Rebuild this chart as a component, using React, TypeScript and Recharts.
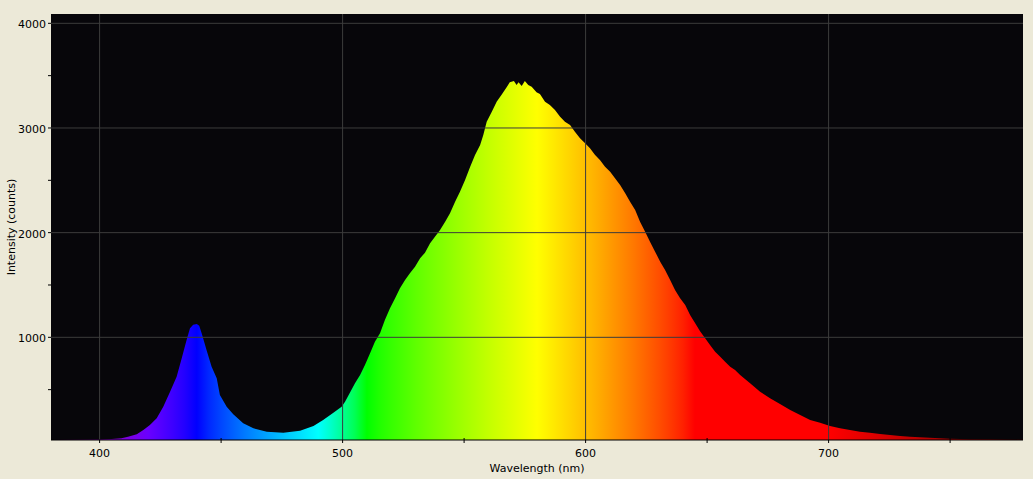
import React from "react";
import {
  AreaChart,
  Area,
  XAxis,
  YAxis,
  CartesianGrid,
  ReferenceLine,
} from "recharts";

// Wavelength (nm) and intensity (counts)
const WAVELENGTHS = [
  380, 390, 400, 405, 409, 411.7, 415.3, 418, 420.7, 423.5, 426.2, 429, 431.7,
  433.8, 435.8, 437.2, 438.5, 440, 441, 442, 444, 446.1, 448.2, 449.5, 452.3,
  455, 459.1, 463.3, 468.8, 475.6, 482.5, 488, 492, 496.2, 499.6, 501, 503,
  505.1, 507.2, 509.2, 511.3, 513.3, 515.4, 517.4, 519.5, 521.6, 523.6, 525.7,
  527.7, 529.8, 531.9, 533.9, 536, 538, 540.1, 542.2, 544.2, 546.3, 548.3,
  550.4, 552.5, 554.5, 556.6, 557.9, 559.3, 561.4, 563.4, 565.5, 567.5, 568.8,
  570.5, 571.6, 572.4, 573.7, 575, 576.4, 577.8, 579.8, 581.2, 583.3, 585.3,
  587.4, 589.5, 591.5, 593.6, 595.6, 597.7, 599.8, 601.8, 603.9, 605.9, 608,
  610.1, 612.1, 614.2, 616.3, 618.3, 620.4, 622.4, 624.5, 626.5, 628.6, 630.7,
  632.7, 634.8, 636.8, 638.9, 641, 643, 645.1, 647.1, 649.2, 651.2, 653.3,
  655.4, 657.4, 659.5, 661.5, 663.6, 667.7, 671.8, 675.9, 680, 684.2, 688.3,
  692.4, 696.5, 700.6, 704.7, 708.8, 712.9, 717, 721.2, 725.3, 729.4, 733.5,
  737.6, 741.7, 745.8, 749.9, 754, 758.2, 766.4, 772, 780,
];

const COUNTS = [
  20, 22, 24, 28, 36, 50, 73, 115, 162, 226, 337, 480, 624, 800, 975, 1086,
  1120, 1127, 1110, 1038, 879, 719, 608, 449, 337, 264, 178, 131, 99, 89, 108,
  153, 210, 280, 337, 385, 470, 561, 640, 736, 847, 958, 1038, 1166, 1277, 1373,
  1468, 1548, 1612, 1675, 1755, 1809, 1898, 1962, 2025, 2105, 2185, 2296, 2391,
  2503, 2630, 2742, 2837, 2933, 3060, 3156, 3251, 3320, 3390, 3437, 3449, 3411,
  3437, 3401, 3449, 3411, 3395, 3341, 3325, 3251, 3220, 3172, 3108, 3060, 3028,
  2965, 2901, 2853, 2806, 2742, 2694, 2630, 2582, 2519, 2455, 2376, 2296, 2216,
  2105, 2009, 1914, 1818, 1723, 1643, 1548, 1452, 1373, 1309, 1213, 1134, 1057,
  991, 927, 863, 815, 767, 719, 688, 640, 561, 480, 417, 363, 306, 258, 210,
  185, 153, 131, 115, 99, 89, 76, 67, 57, 51, 45, 41, 35, 32, 29, 26, 26, 24,
  22,
];

const X_TICKS = [400, 450, 500, 550, 600, 650, 700, 750];
const Y_TICKS = [500, 1000, 1500, 2000, 2500, 3000, 3500, 4000];
const X_GRID = [400, 500, 600, 700];
const Y_GRID = [1000, 2000, 3000, 4000];

const data = WAVELENGTHS.map((nm, i) => ({ nm, counts: COUNTS[i] }));

const FONT = "'DejaVu Sans', Verdana, sans-serif";

// wavelength -> rgb (Bruton's approximation)
function waveColor(w: number): string {
  let r = 0, g = 0, b = 0;
  if (w < 440) { r = -(w - 440) / 60; b = 1; }
  else if (w < 490) { g = (w - 440) / 50; b = 1; }
  else if (w < 510) { g = 1; b = -(w - 510) / 20; }
  else if (w < 580) { r = (w - 510) / 70; g = 1; }
  else if (w < 645) { r = 1; g = -(w - 645) / 65; }
  else { r = 1; }
  let f = 1;
  if (w < 420) f = 0.3 + (0.7 * (w - 380)) / 40;
  else if (w > 700) f = 0.3 + (0.7 * (780 - w)) / 80;
  const c = (v: number) => Math.round(255 * Math.pow(v * f, 0.8));
  return `rgb(${c(r)},${c(g)},${c(b)})`;
}

const stops: number[] = [];
for (let w = 380; w <= 780; w += 5) stops.push(w);

const XTick = (props: any) => {
  const { x, y, payload } = props;
  const major = payload.value % 100 === 0;
  return (
    <g>
      <line x1={x} x2={x} y1={major ? y : y - 2} y2={y + 3} stroke="#000" />
      {major && (
        <text x={x} y={y + 17} textAnchor="middle" fontSize={11} fontFamily={FONT} fill="#000">
          {payload.value}
        </text>
      )}
    </g>
  );
};

const YTick = (props: any) => {
  const { x, y, payload } = props;
  const major = payload.value % 1000 === 0;
  return (
    <g>
      <line x1={x - 3} x2={x} y1={y} y2={y} stroke="#000" />
      {major && (
        <text x={x - 5} y={y + 5} textAnchor="end" fontSize={11} fontFamily={FONT} fill="#000">
          {payload.value}
        </text>
      )}
    </g>
  );
};

export default function App() {
  return (
    <div
      style={{
        position: "fixed",
        left: 0,
        top: 0,
        width: 1033,
        height: 479,
        background: "#ECE9D8",
      }}
    >
      <AreaChart
        width={1033}
        height={479}
        data={data}
        margin={{ top: 14, right: 10, left: 0, bottom: 0 }}
      >
        <defs>
          <linearGradient id="spec" x1="0" y1="0" x2="1" y2="0">
            {stops.map((w) => (
              <stop key={w} offset={(w - 380) / 400} stopColor={waveColor(w)} />
            ))}
          </linearGradient>
        </defs>
        <CartesianGrid horizontal={false} vertical={false} fill="#07060a" stroke="none" />
        <XAxis
          dataKey="nm"
          type="number"
          domain={[380, 780]}
          ticks={X_TICKS}
          allowDataOverflow
          height={39}
          tickSize={0}
          tickMargin={0}
          tickLine={false}
          axisLine={{ stroke: "#000" }}
          tick={<XTick />}
          label={{
            content: ({ viewBox }: any) => (
              <text
                x={viewBox.x + viewBox.width / 2}
                y={viewBox.y + 32}
                textAnchor="middle"
                fontSize={11}
                fontFamily={FONT}
                fill="#000"
              >
                Wavelength (nm)
              </text>
            ),
          }}
        />
        <YAxis
          type="number"
          domain={[19, 4089]}
          ticks={Y_TICKS}
          allowDataOverflow
          width={51}
          tickSize={0}
          tickMargin={0}
          tickLine={false}
          axisLine={false}
          tick={<YTick />}
          label={{
            content: ({ viewBox }: any) => {
              const cx = 15;
              const cy = viewBox.y + viewBox.height / 2;
              return (
                <text
                  x={cx}
                  y={cy}
                  transform={`rotate(-90 ${cx} ${cy})`}
                  textAnchor="middle"
                  fontSize={11}
                  fontFamily={FONT}
                  fill="#000"
                >
                  Intensity (counts)
                </text>
              );
            },
          }}
        />
        <Area
          type="linear"
          dataKey="counts"
          stroke="none"
          fill="url(#spec)"
          fillOpacity={1}
          dot={false}
          activeDot={false}
          isAnimationActive={false}
        />
        {X_GRID.map((v) => (
          <ReferenceLine key={`x${v}`} x={v} stroke="#3c3c3c" />
        ))}
        {Y_GRID.map((v) => (
          <ReferenceLine key={`y${v}`} y={v} stroke="#3c3c3c" />
        ))}
      </AreaChart>
    </div>
  );
}
